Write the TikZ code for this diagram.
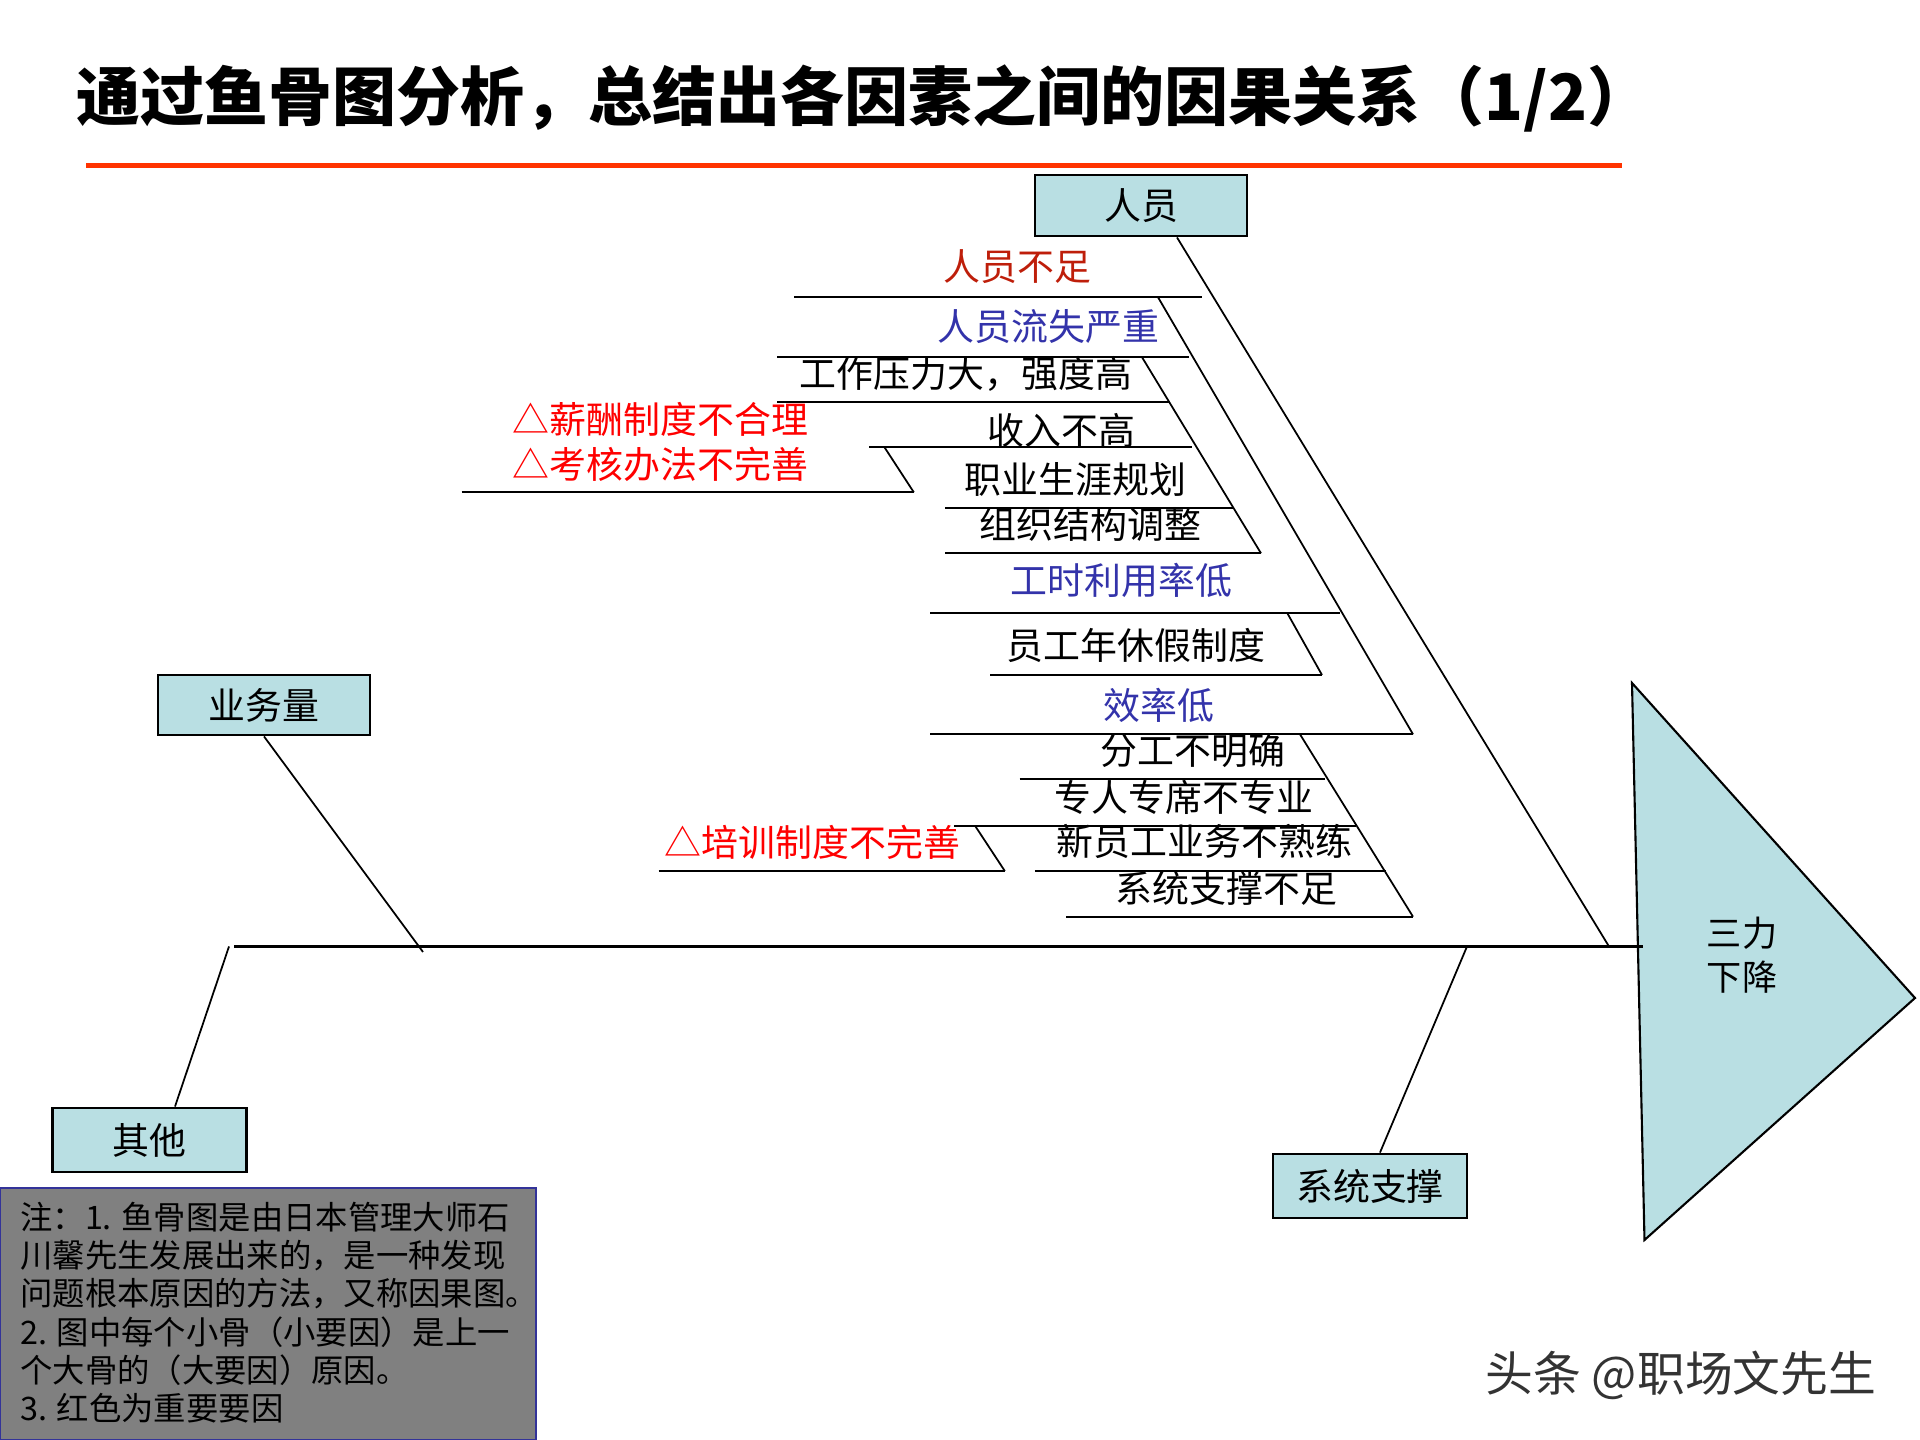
\documentclass[tikz,border=0pt]{standalone}
\usepackage{fontspec}
\setmainfont{Noto Sans CJK SC}
\usetikzlibrary{calc}
\definecolor{boxfill}{RGB}{185,223,227}
\definecolor{titlered}{RGB}{255,51,0}
\definecolor{keyred}{RGB}{255,0,0}
\definecolor{darkred}{RGB}{190,30,10}
\definecolor{subblue}{RGB}{51,51,170}
\definecolor{notegray}{RGB}{128,128,128}
\definecolor{noteedge}{RGB}{51,51,153}

\begin{document}
\begin{tikzpicture}[x=0.01cm, y=-0.01cm,
    bone/.style={line width=0.5pt},
    rib/.style={line width=0.6pt},
    catbox/.style={draw, line width=0.8pt, fill=boxfill, inner sep=0pt,
                   font=\fontsize{10.5}{12}\selectfont},
    cause/.style={inner sep=0pt, anchor=east, font=\fontsize{10.5}{12}\selectfont}]
        \useasboundingbox (0,0) rectangle (1920,1440);
        \node[anchor=west, inner sep=0pt, font=\fontsize{18.2}{20}\bfseries] (title)
          at (76,98) {通过鱼骨图分析，总结出各因素之间的因果关系（1/2）};
        \draw[titlered, line width=1.45pt] (86,165.5) -- (1622,165.5);
        % head
        \draw[fill=boxfill, line width=0.6pt] (1632,683) -- (1915,998) -- (1644.5,1240) -- cycle;
        \node[align=left, inner sep=0pt, font=\fontsize{10}{12.5}\selectfont] (head)
          at (1742,955) {三力\\下降};
        % big bones
        \node[catbox, minimum width=2.12cm, minimum height=0.61cm] (ry) at (1141,205.5) {人员};
        \node[catbox, minimum width=2.12cm, minimum height=0.6cm] (ywl) at (264,705) {业务量};
        \node[catbox, minimum width=1.94cm, minimum height=0.64cm] (qt) at (149.5,1140) {其他};
        \node[catbox, minimum width=1.94cm, minimum height=0.64cm] (xt) at (1370,1186) {系统支撑};
        \coordinate (spineL) at (234,946.5);
        \coordinate (spineR) at (1643,946.5);
        \coordinate (ryend) at (1609,946.5);
        \coordinate (ywlend) at (423,952);
        \coordinate (qtend) at (229,946.5);
        \coordinate (xtend) at (1467,946.5);
        \draw[rib] (spineL) -- (spineR);
        \draw[bone] ($(ry.south)+(36,0)$) -- (ryend);
        \draw[bone] (ywl.south) -- (ywlend);
        \draw[bone] ($(qt.north)+(25.5,0)$) -- (qtend);
        \draw[bone] ($(xt.north)+(10,0)$) -- (xtend);
        % causes of 人员
        \node[cause, text=darkred] (rybz) at (1092,267) {人员不足};
        \node[cause, text=subblue] (rylsyz) at (1160,327) {人员流失严重};
        \node[cause] (gzyl) at (1133,373.5) {工作压力大，强度高};
        \node[inner sep=0pt, anchor=west, align=left, text=keyred,
              font=\fontsize{10.5}{12.8}\selectfont] (xc) at (512,441.5)
          {△薪酬制度不合理\\△考核办法不完善};
        \node[cause] (srbg) at (1136,430) {收入不高};
        \node[cause] (zysy) at (1187,479) {职业生涯规划};
        \node[cause] (zzjg) at (1202,524) {组织结构调整};
        \node[cause, text=subblue] (gsly) at (1233,580) {工时利用率低};
        \node[cause] (nxj) at (1266,645) {员工年休假制度};
        \node[cause, text=subblue] (xld) at (1215,705) {效率低};
        \node[cause] (fgbm) at (1286,750.6) {分工不明确};
        \node[cause] (zrzx) at (1314,797) {专人专席不专业};
        \node[cause, text=keyred] (pxzd) at (961,842.5) {△培训制度不完善};
        \node[cause] (xyg) at (1353,841) {新员工业务不熟练};
        \node[cause] (xtzc) at (1338,888) {系统支撑不足};
        % underlines
        \draw[rib] (794,296.7) -- (1202,296.7);
        \draw[rib] (777,356.7) -- (1189,356.7);
        \draw[rib] (777,401.7) -- (1170,401.7);
        \draw[rib] (869,447.3) -- (1192,447.3);
        \draw[rib] (461.5,492.3) -- (913.8,492.3);
        \draw[rib] (945,507.7) -- (1233,507.7);
        \draw[rib] (945,553.3) -- (1261,553.3);
        \draw[rib] (930,613.3) -- (1340,613.3);
        \draw[rib] (990,675) -- (1322,675);
        \draw[rib] (930,734.3) -- (1413,734.3);
        \draw[rib] (1019.5,779.3) -- (1325,779.3);
        \draw[rib] (953.8,825.7) -- (1356,825.7);
        \draw[rib] (658.5,871) -- (1004.8,871);
        \draw[rib] (1034.8,871) -- (1386,871);
        \draw[rib] (1066,916.7) -- (1413,916.7);
        % small bones
        \coordinate (a1) at (1157.7,296.7);
        \coordinate (a2) at (1413,734.3);
        \coordinate (b1) at (1141.7,356.7);
        \coordinate (b2) at (1261,553.3);
        \coordinate (d1) at (884.5,447.3);
        \coordinate (d2) at (913.8,492.3);
        \coordinate (h1) at (1287.4,613.3);
        \coordinate (h2) at (1322,675);
        \coordinate (j1) at (1300,734.3);
        \coordinate (j2) at (1413,916.7);
        \coordinate (l1) at (975,825.7);
        \coordinate (l2) at (1004.8,871);
        \draw[bone] (a1) -- (a2);
        \draw[bone] (b1) -- (b2);
        \draw[bone] (d1) -- (d2);
        \draw[bone] (h1) -- (h2);
        \draw[bone] (j1) -- (j2);
        \draw[bone] (l1) -- (l2);
        % note
        \draw[fill=notegray, draw=noteedge, line width=0.8pt] (0,1188) rectangle (536,1440);
        \node[anchor=west, align=left, inner sep=0pt, font=\fontsize{9.2}{10.9}\selectfont] (note)
          at (19.6,1312.5)
          {注：1. 鱼骨图是由日本管理大师石\\川馨先生发展出来的，是一种发现\\问题根本原因的方法，又称因果图。\\2. 图中每个小骨（小要因）是上一\\个大骨的（大要因）原因。\\3. 红色为重要要因};
        \node[anchor=east, inner sep=0pt, text=black!80, font=\fontsize{13.6}{15}\selectfont] (mark)
          at (1877,1375) {头条 @职场文先生};
      \end{tikzpicture}
\end{document}
